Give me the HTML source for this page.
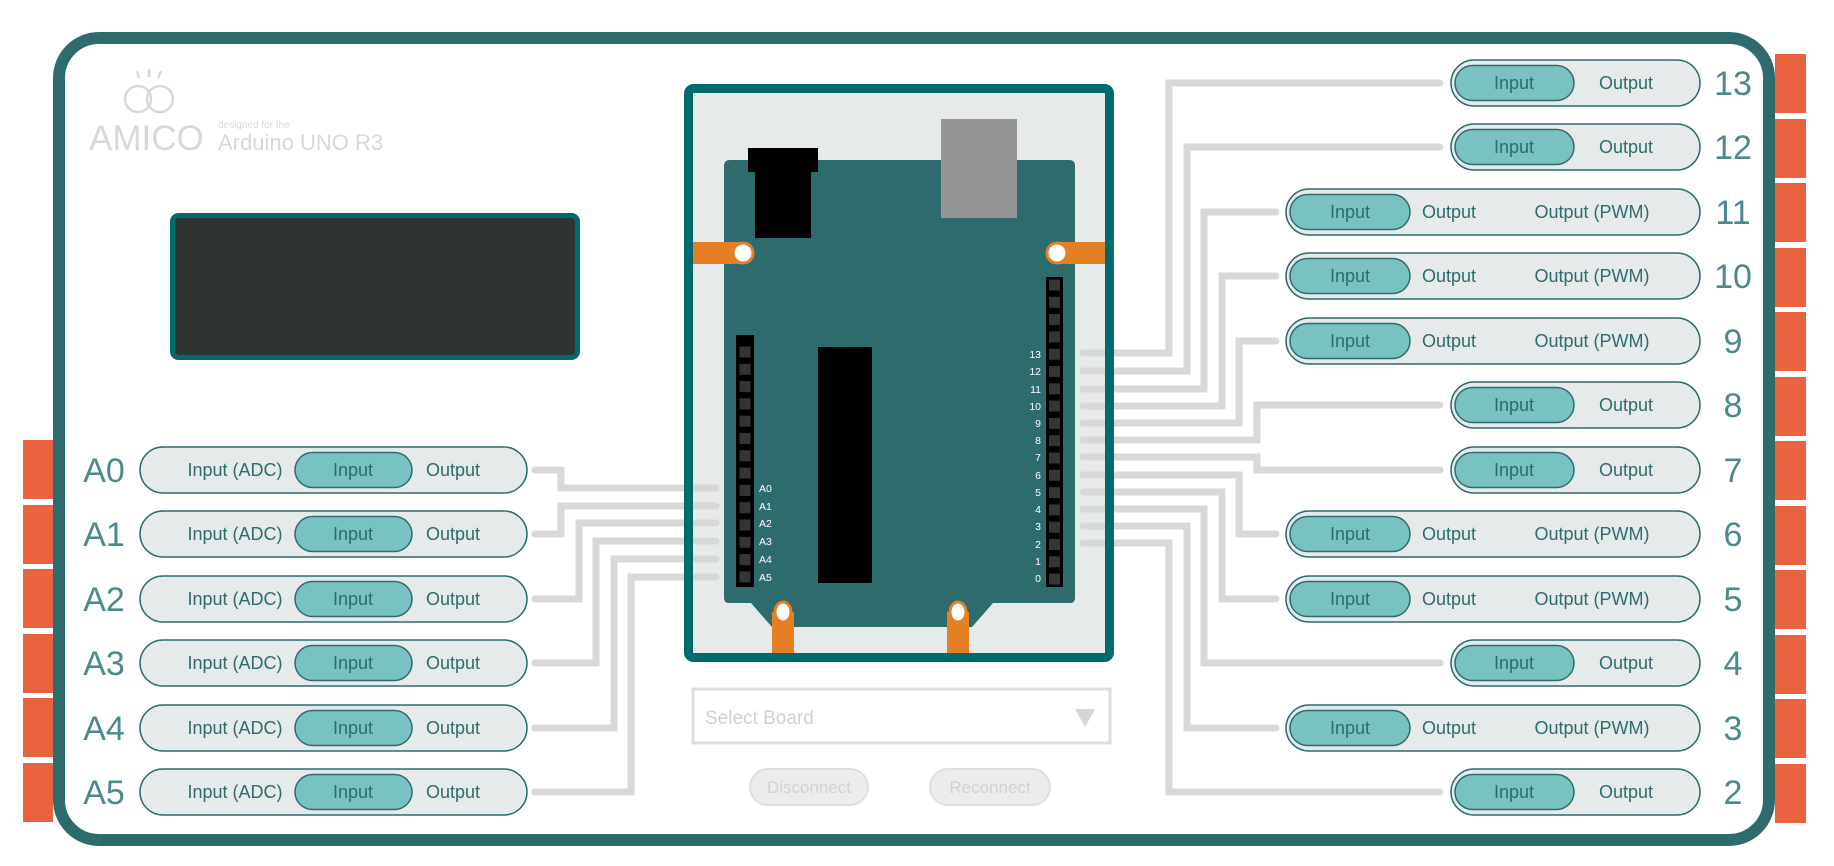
<!DOCTYPE html>
<html><head><meta charset="utf-8"><style>
html,body{margin:0;padding:0;background:#fff;}
svg{display:block;}
text{font-family:"Liberation Sans",sans-serif;}
.pt{font-size:18px;fill:#2e6b6d;text-anchor:middle;}
.lb{font-size:34px;fill:#4a8a8c;text-anchor:middle;}
.hl{font-family:"DejaVu Sans Mono",monospace;font-size:10.5px;fill:#fff;}
.o{fill:#e6eaeb;stroke:#2e6b6d;stroke-width:1.5;}
.i{fill:#79c2c2;stroke:#2e6b6d;stroke-width:1.5;}
.c{fill:none;stroke:#d8d8d8;stroke-width:7;stroke-linecap:round;stroke-linejoin:miter;}
.pin{fill:#353535;}
</style></head><body>
<svg width="1834" height="866" viewBox="0 0 1834 866" xmlns="http://www.w3.org/2000/svg">
<g fill="#e9633f">
<rect x="23" y="440" width="30" height="59"/><rect x="23" y="505" width="30" height="59"/><rect x="23" y="569" width="30" height="59"/>
<rect x="23" y="634" width="30" height="59"/><rect x="23" y="698" width="30" height="59"/><rect x="23" y="763" width="30" height="59"/>
<rect x="1775" y="54" width="31" height="59"/><rect x="1775" y="119" width="31" height="59"/><rect x="1775" y="183" width="31" height="59"/>
<rect x="1775" y="248" width="31" height="59"/><rect x="1775" y="312" width="31" height="59"/><rect x="1775" y="377" width="31" height="59"/>
<rect x="1775" y="441" width="31" height="59"/><rect x="1775" y="506" width="31" height="59"/><rect x="1775" y="570" width="31" height="59"/>
<rect x="1775" y="635" width="31" height="59"/><rect x="1775" y="699" width="31" height="59"/><rect x="1775" y="764" width="31" height="59"/>
</g>
<rect x="59" y="38" width="1710" height="802" rx="40" fill="#fff" stroke="#2e6b6d" stroke-width="12"/>

<g fill="none" stroke="#d9d9d9" stroke-width="2.5">
<circle cx="138" cy="99" r="13"/><circle cx="160" cy="99" r="13"/>
<line x1="137" y1="71" x2="139" y2="78"/><line x1="149" y1="69" x2="149" y2="77"/><line x1="161" y1="71" x2="158" y2="78"/>
</g>
<text x="89" y="150" font-size="35" fill="#d8d8d8">AMICO</text>
<text x="218" y="128" font-size="10" fill="#d8d8d8">designed for the</text>
<text x="218" y="150" font-size="22" fill="#d8d8d8">Arduino UNO R3</text>

<rect x="172.5" y="215.5" width="405" height="142" rx="6" fill="#2e3333" stroke="#006b6e" stroke-width="5"/>

<rect x="688.5" y="88.5" width="421" height="569" rx="5" fill="#e6eaeb"/>

<polyline class="c" points="535,470 561,470 561,488 716,488"/>
<polyline class="c" points="535,534 561,534 561,506 716,506"/>
<polyline class="c" points="535,599 579,599 579,523 716,523"/>
<polyline class="c" points="535,663 596,663 596,541 716,541"/>
<polyline class="c" points="535,728 614,728 614,559 716,559"/>
<polyline class="c" points="535,792 631,792 631,577 716,577"/>
<polyline class="c" points="1083,353 1169,353 1169,83 1440,83"/>
<polyline class="c" points="1083,371 1187,371 1187,147 1440,147"/>
<polyline class="c" points="1083,389 1204,389 1204,212 1276,212"/>
<polyline class="c" points="1083,406 1222,406 1222,276 1276,276"/>
<polyline class="c" points="1083,423 1239,423 1239,341 1276,341"/>
<polyline class="c" points="1083,440 1257,440 1257,405 1440,405"/>
<polyline class="c" points="1083,457 1257,457 1257,470 1440,470"/>
<polyline class="c" points="1083,475 1239,475 1239,534 1276,534"/>
<polyline class="c" points="1083,492 1222,492 1222,599 1276,599"/>
<polyline class="c" points="1083,509 1204,509 1204,663 1440,663"/>
<polyline class="c" points="1083,526 1187,526 1187,728 1276,728"/>
<polyline class="c" points="1083,543 1169,543 1169,792 1440,792"/>

<path d="M724,166 q0,-6 6,-6 H1069 q6,0 6,6 V598 q0,5 -5,5 H993 L972,627 H772 L751,603 H729 q-5,0 -5,-5 Z" fill="#2e6b6d"/>
<rect x="941" y="119" width="76" height="99" fill="#959595"/>
<rect x="748" y="148" width="70" height="24" fill="#000"/>
<rect x="755" y="170" width="56" height="68" fill="#000"/>
<rect x="818" y="347" width="54" height="236" fill="#000"/>
<rect x="693" y="242" width="50" height="22" fill="#e57f24"/>
<rect x="1057" y="242" width="48" height="22" fill="#e57f24"/>
<circle cx="743" cy="253" r="10" fill="#fff" stroke="#e57f24" stroke-width="3"/>
<circle cx="1057" cy="253" r="10" fill="#fff" stroke="#e57f24" stroke-width="3"/>
<rect x="772" y="612" width="22" height="42" fill="#e57f24"/>
<rect x="947" y="612" width="22" height="42" fill="#e57f24"/>
<ellipse cx="783" cy="612" rx="8" ry="10" fill="#fff" stroke="#e57f24" stroke-width="3"/>
<ellipse cx="958" cy="612" rx="8" ry="10" fill="#fff" stroke="#e57f24" stroke-width="3"/>
<rect x="736" y="335" width="18" height="252" fill="#000"/>
<rect x="1046" y="277" width="17" height="310" fill="#000"/>
<g class="pin">
<rect x="739.5" y="346.5" width="11" height="11"/><rect x="739.5" y="363.8" width="11" height="11"/><rect x="739.5" y="381.1" width="11" height="11"/><rect x="739.5" y="398.4" width="11" height="11"/><rect x="739.5" y="415.7" width="11" height="11"/><rect x="739.5" y="433" width="11" height="11"/><rect x="739.5" y="450.3" width="11" height="11"/><rect x="739.5" y="467.6" width="11" height="11"/><rect x="739.5" y="484.9" width="11" height="11"/><rect x="739.5" y="502.2" width="11" height="11"/><rect x="739.5" y="519.5" width="11" height="11"/><rect x="739.5" y="536.8" width="11" height="11"/><rect x="739.5" y="554.1" width="11" height="11"/><rect x="739.5" y="571.4" width="11" height="11"/>
<rect x="1049" y="279.5" width="11" height="11"/><rect x="1049" y="296.8" width="11" height="11"/><rect x="1049" y="314.1" width="11" height="11"/><rect x="1049" y="331.4" width="11" height="11"/><rect x="1049" y="348.7" width="11" height="11"/><rect x="1049" y="366" width="11" height="11"/><rect x="1049" y="383.3" width="11" height="11"/><rect x="1049" y="400.6" width="11" height="11"/><rect x="1049" y="417.9" width="11" height="11"/><rect x="1049" y="435.2" width="11" height="11"/><rect x="1049" y="452.5" width="11" height="11"/><rect x="1049" y="469.8" width="11" height="11"/><rect x="1049" y="487.1" width="11" height="11"/><rect x="1049" y="504.4" width="11" height="11"/><rect x="1049" y="521.7" width="11" height="11"/><rect x="1049" y="539" width="11" height="11"/><rect x="1049" y="556.3" width="11" height="11"/><rect x="1049" y="573.6" width="11" height="11"/>
</g>
<g class="hl">
<text x="759" y="492">A0</text><text x="759" y="510">A1</text><text x="759" y="527">A2</text><text x="759" y="545">A3</text><text x="759" y="563">A4</text><text x="759" y="581">A5</text>
</g>
<g class="hl" text-anchor="end">
<text x="1041" y="358">13</text><text x="1041" y="375">12</text><text x="1041" y="393">11</text><text x="1041" y="410">10</text><text x="1041" y="427">9</text><text x="1041" y="444">8</text><text x="1041" y="461">7</text><text x="1041" y="479">6</text><text x="1041" y="496">5</text><text x="1041" y="513">4</text><text x="1041" y="530">3</text><text x="1041" y="548">2</text><text x="1041" y="565">1</text><text x="1041" y="582">0</text>
</g>
<rect x="688.5" y="88.5" width="421" height="569" rx="5" fill="none" stroke="#006b6e" stroke-width="9"/>

<rect x="693" y="689" width="417" height="54" fill="#fff" stroke="#dcdcdc" stroke-width="3"/>
<text x="705" y="724" font-size="19" fill="#d0d0d0">Select  Board</text>
<polygon points="1075,709 1095,709 1085,727" fill="#d5d5d5"/>
<rect x="750" y="769" width="118" height="36" rx="18" fill="#ececec" stroke="#dedede" stroke-width="2"/>
<text x="809" y="793" font-size="17" fill="#d2d2d2" text-anchor="middle">Disconnect</text>
<rect x="930" y="769" width="120" height="36" rx="18" fill="#ececec" stroke="#dedede" stroke-width="2"/>
<text x="990" y="793" font-size="17" fill="#d2d2d2" text-anchor="middle">Reconnect</text>

<g transform="translate(0,470)"><text class="lb" x="104" y="12">A0</text><rect class="o" x="140" y="-23" width="387" height="46" rx="23"/><rect class="i" x="295" y="-17.5" width="117" height="35" rx="17.5"/><text class="pt" x="235" y="6">Input (ADC)</text><text class="pt" x="353" y="6">Input</text><text class="pt" x="453" y="6">Output</text></g>
<g transform="translate(0,534)"><text class="lb" x="104" y="12">A1</text><rect class="o" x="140" y="-23" width="387" height="46" rx="23"/><rect class="i" x="295" y="-17.5" width="117" height="35" rx="17.5"/><text class="pt" x="235" y="6">Input (ADC)</text><text class="pt" x="353" y="6">Input</text><text class="pt" x="453" y="6">Output</text></g>
<g transform="translate(0,599)"><text class="lb" x="104" y="12">A2</text><rect class="o" x="140" y="-23" width="387" height="46" rx="23"/><rect class="i" x="295" y="-17.5" width="117" height="35" rx="17.5"/><text class="pt" x="235" y="6">Input (ADC)</text><text class="pt" x="353" y="6">Input</text><text class="pt" x="453" y="6">Output</text></g>
<g transform="translate(0,663)"><text class="lb" x="104" y="12">A3</text><rect class="o" x="140" y="-23" width="387" height="46" rx="23"/><rect class="i" x="295" y="-17.5" width="117" height="35" rx="17.5"/><text class="pt" x="235" y="6">Input (ADC)</text><text class="pt" x="353" y="6">Input</text><text class="pt" x="453" y="6">Output</text></g>
<g transform="translate(0,728)"><text class="lb" x="104" y="12">A4</text><rect class="o" x="140" y="-23" width="387" height="46" rx="23"/><rect class="i" x="295" y="-17.5" width="117" height="35" rx="17.5"/><text class="pt" x="235" y="6">Input (ADC)</text><text class="pt" x="353" y="6">Input</text><text class="pt" x="453" y="6">Output</text></g>
<g transform="translate(0,792)"><text class="lb" x="104" y="12">A5</text><rect class="o" x="140" y="-23" width="387" height="46" rx="23"/><rect class="i" x="295" y="-17.5" width="117" height="35" rx="17.5"/><text class="pt" x="235" y="6">Input (ADC)</text><text class="pt" x="353" y="6">Input</text><text class="pt" x="453" y="6">Output</text></g>

<g transform="translate(0,83)"><rect class="o" x="1451" y="-23" width="249" height="46" rx="23"/><rect class="i" x="1455" y="-17.5" width="119" height="35" rx="17.5"/><text class="pt" x="1514" y="6">Input</text><text class="pt" x="1626" y="6">Output</text><text class="lb" x="1733" y="12">13</text></g>
<g transform="translate(0,147)"><rect class="o" x="1451" y="-23" width="249" height="46" rx="23"/><rect class="i" x="1455" y="-17.5" width="119" height="35" rx="17.5"/><text class="pt" x="1514" y="6">Input</text><text class="pt" x="1626" y="6">Output</text><text class="lb" x="1733" y="12">12</text></g>
<g transform="translate(0,212)"><rect class="o" x="1286" y="-23" width="414" height="46" rx="23"/><rect class="i" x="1290" y="-17.5" width="120" height="35" rx="17.5"/><text class="pt" x="1350" y="6">Input</text><text class="pt" x="1449" y="6">Output</text><text class="pt" x="1592" y="6">Output (PWM)</text><text class="lb" x="1733" y="12">11</text></g>
<g transform="translate(0,276)"><rect class="o" x="1286" y="-23" width="414" height="46" rx="23"/><rect class="i" x="1290" y="-17.5" width="120" height="35" rx="17.5"/><text class="pt" x="1350" y="6">Input</text><text class="pt" x="1449" y="6">Output</text><text class="pt" x="1592" y="6">Output (PWM)</text><text class="lb" x="1733" y="12">10</text></g>
<g transform="translate(0,341)"><rect class="o" x="1286" y="-23" width="414" height="46" rx="23"/><rect class="i" x="1290" y="-17.5" width="120" height="35" rx="17.5"/><text class="pt" x="1350" y="6">Input</text><text class="pt" x="1449" y="6">Output</text><text class="pt" x="1592" y="6">Output (PWM)</text><text class="lb" x="1733" y="12">9</text></g>
<g transform="translate(0,405)"><rect class="o" x="1451" y="-23" width="249" height="46" rx="23"/><rect class="i" x="1455" y="-17.5" width="119" height="35" rx="17.5"/><text class="pt" x="1514" y="6">Input</text><text class="pt" x="1626" y="6">Output</text><text class="lb" x="1733" y="12">8</text></g>
<g transform="translate(0,470)"><rect class="o" x="1451" y="-23" width="249" height="46" rx="23"/><rect class="i" x="1455" y="-17.5" width="119" height="35" rx="17.5"/><text class="pt" x="1514" y="6">Input</text><text class="pt" x="1626" y="6">Output</text><text class="lb" x="1733" y="12">7</text></g>
<g transform="translate(0,534)"><rect class="o" x="1286" y="-23" width="414" height="46" rx="23"/><rect class="i" x="1290" y="-17.5" width="120" height="35" rx="17.5"/><text class="pt" x="1350" y="6">Input</text><text class="pt" x="1449" y="6">Output</text><text class="pt" x="1592" y="6">Output (PWM)</text><text class="lb" x="1733" y="12">6</text></g>
<g transform="translate(0,599)"><rect class="o" x="1286" y="-23" width="414" height="46" rx="23"/><rect class="i" x="1290" y="-17.5" width="120" height="35" rx="17.5"/><text class="pt" x="1350" y="6">Input</text><text class="pt" x="1449" y="6">Output</text><text class="pt" x="1592" y="6">Output (PWM)</text><text class="lb" x="1733" y="12">5</text></g>
<g transform="translate(0,663)"><rect class="o" x="1451" y="-23" width="249" height="46" rx="23"/><rect class="i" x="1455" y="-17.5" width="119" height="35" rx="17.5"/><text class="pt" x="1514" y="6">Input</text><text class="pt" x="1626" y="6">Output</text><text class="lb" x="1733" y="12">4</text></g>
<g transform="translate(0,728)"><rect class="o" x="1286" y="-23" width="414" height="46" rx="23"/><rect class="i" x="1290" y="-17.5" width="120" height="35" rx="17.5"/><text class="pt" x="1350" y="6">Input</text><text class="pt" x="1449" y="6">Output</text><text class="pt" x="1592" y="6">Output (PWM)</text><text class="lb" x="1733" y="12">3</text></g>
<g transform="translate(0,792)"><rect class="o" x="1451" y="-23" width="249" height="46" rx="23"/><rect class="i" x="1455" y="-17.5" width="119" height="35" rx="17.5"/><text class="pt" x="1514" y="6">Input</text><text class="pt" x="1626" y="6">Output</text><text class="lb" x="1733" y="12">2</text></g>
</svg>
</body></html>
